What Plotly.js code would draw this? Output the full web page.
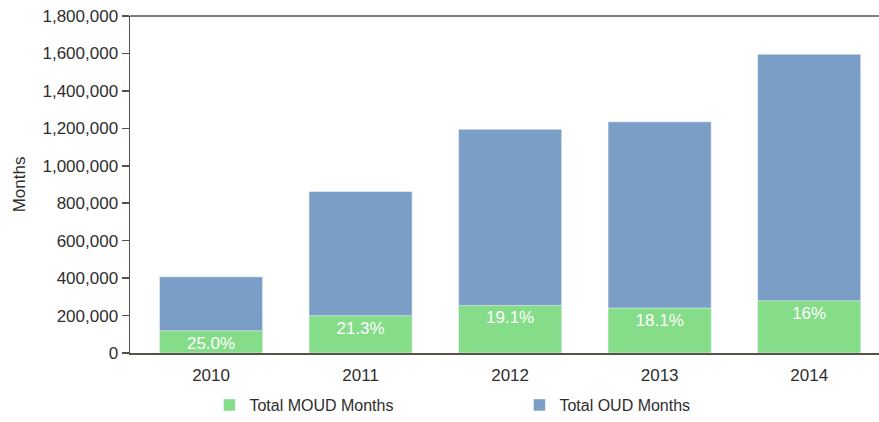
<!DOCTYPE html>
<html>
<head>
<meta charset="utf-8">
<script src="https://cdn.plot.ly/plotly-3.0.1.min.js"></script>
<style>html,body{margin:0;padding:0;background:#fff;}#chart{width:879px;height:422px;}</style>
</head>
<body>
<div id="chart"></div>
<script>
const years = ['2010', '2011', '2012', '2013', '2014'];
const totalOudMonths = [407000, 862000, 1195000, 1235000, 1596000];
const totalMoudMonths = [119000, 199000, 254000, 240000, 279000];
const moudShareLabels = ['25.0%', '21.3%', '19.1%', '18.1%', '16%'];
const yTickValues = [0, 200000, 400000, 600000, 800000, 1000000, 1200000, 1400000, 1600000, 1800000];

const fontFamily = '"Liberation Sans", Arial, Helvetica, sans-serif';
const axisColor = '#56524b';

const traces = [
  {
    type: 'bar',
    name: 'Total OUD Months',
    x: years,
    y: totalOudMonths,
    marker: {color: '#7b9ec6', line: {color: 'rgba(255,255,255,0.5)', width: 1}},
    width: 0.69,
    hoverinfo: 'x+y+name'
  },
  {
    type: 'bar',
    name: 'Total MOUD Months',
    x: years,
    y: totalMoudMonths,
    text: moudShareLabels,
    textposition: 'inside',
    insidetextanchor: 'end',
    constraintext: 'none',
    textfont: {color: '#ffffff', size: 17, family: fontFamily},
    marker: {color: '#85dc89', line: {color: 'rgba(255,255,255,0.5)', width: 1}},
    width: 0.69,
    hoverinfo: 'x+y+name'
  }
];

const layout = {
  width: 879,
  height: 422,
  margin: {l: 130, r: 0, t: 16, b: 69},
  paper_bgcolor: '#ffffff',
  plot_bgcolor: '#ffffff',
  barmode: 'overlay',
  font: {family: fontFamily, color: '#2e2e2e', size: 17},
  showlegend: true,
  legend: {
    orientation: 'h',
    traceorder: 'reversed',
    x: 0.106,
    xanchor: 'left',
    yref: 'container',
    y: -0.018,
    yanchor: 'bottom',
    entrywidth: 265,
    entrywidthmode: 'pixels',
    font: {size: 16, color: '#2e2e2e'},
    bgcolor: 'rgba(0,0,0,0)'
  },
  xaxis: {
    type: 'category',
    range: [-0.542, 4.467],
    showline: true,
    linecolor: axisColor,
    linewidth: 1.5,
    ticks: '',
    showgrid: false,
    zeroline: false,
    tickfont: {size: 17, color: '#2e2e2e'},
    ticklabelstandoff: 6
  },
  yaxis: {
    range: [0, 1800000],
    tickvals: yTickValues,
    tickformat: ',',
    showline: true,
    linecolor: axisColor,
    linewidth: 1.5,
    ticks: 'outside',
    ticklen: 7,
    tickwidth: 1.5,
    tickcolor: axisColor,
    showgrid: false,
    zeroline: false,
    tickfont: {size: 17, color: '#2e2e2e'},
    title: {text: 'Months', font: {size: 17, color: '#2e2e2e'}, standoff: 12}
  },
  shapes: [
    {type: 'line', xref: 'paper', yref: 'paper', x0: 0, x1: 1, y0: 1, y1: 1,
     line: {color: axisColor, width: 1.5}}
  ]
};

Plotly.newPlot('chart', traces, layout, {displayModeBar: false, staticPlot: true});
</script>
</body>
</html>
